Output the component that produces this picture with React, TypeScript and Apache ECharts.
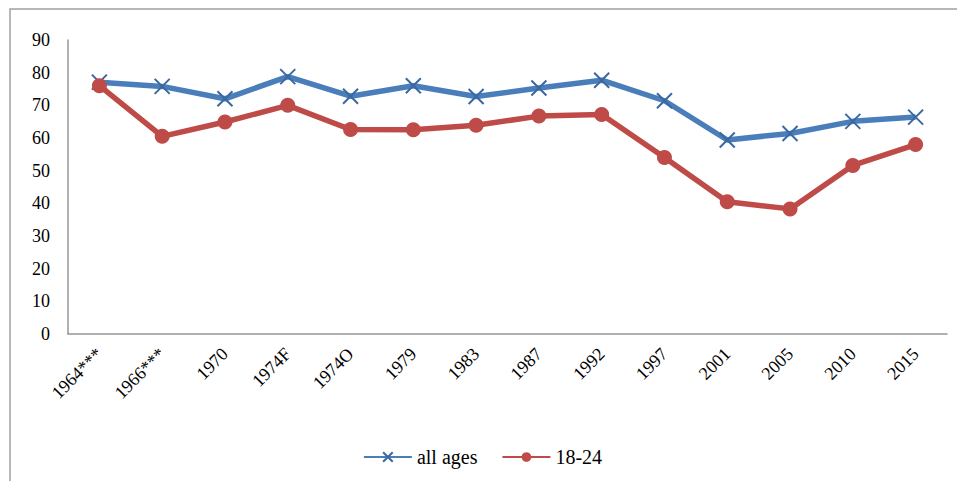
import React, { useEffect, useRef } from "react";
import * as echarts from "echarts";

const categories = ["1964***", "1966***", "1970", "1974F", "1974O", "1979", "1983", "1987", "1992", "1997", "2001", "2005", "2010", "2015"];
const allAges = [77.1, 75.8, 72.0, 78.8, 72.8, 76.0, 72.7, 75.3, 77.7, 71.4, 59.4, 61.4, 65.1, 66.4];
const youth = [76.0, 60.5, 64.9, 70.0, 62.6, 62.5, 63.9, 66.7, 67.2, 54.0, 40.5, 38.3, 51.6, 58.0];
const yTicks = { min: 0, max: 90, interval: 10 };

const FONT = "Liberation Serif, Times New Roman, serif";
const BLUE = "#4a7ebb";
const RED = "#be4b48";

export default function App() {
  const ref = useRef<HTMLDivElement>(null);
  useEffect(() => {
    if (!ref.current) return;
    const chart = echarts.init(ref.current, null, { renderer: "svg" });
    chart.setOption({
      animation: false,
      backgroundColor: "#fff",
      graphic: [
        {
          type: "rect",
          shape: { x: 2, y: 1, width: 980, height: 477 },
          style: { fill: "none", stroke: "#a0a0a0", lineWidth: 1.5 },
          silent: true,
        },
      ],
      grid: { left: 60, right: 10, top: 32, bottom: 147, containLabel: false },
      legend: {
        bottom: 9,
        left: "center",
        itemWidth: 48,
        itemHeight: 12,
        itemGap: 24,
        textStyle: { fontFamily: FONT, fontSize: 20, color: "#000" },
        data: ["all ages", "18-24"],
      },
      xAxis: {
        type: "category",
        data: categories,
        boundaryGap: true,
        axisLine: { lineStyle: { color: "#969696", width: 1.5 } },
        axisTick: { show: false },
        axisLabel: {
          rotate: 45,
          interval: 0,
          margin: 17,
          fontFamily: FONT,
          fontSize: 18,
          color: "#000",
        },
      },
      yAxis: {
        type: "value",
        min: yTicks.min,
        max: yTicks.max,
        interval: yTicks.interval,
        axisLine: { show: true, lineStyle: { color: "#969696", width: 1.5 } },
        axisTick: { show: false },
        splitLine: { show: false },
        axisLabel: {
          margin: 18,
          fontFamily: FONT,
          fontSize: 18,
          color: "#000",
        },
      },
      series: [
        {
          name: "all ages",
          type: "line",
          data: allAges,
          symbol: "path://M0,0L10,10M10,0L0,10",
          symbolSize: 15,
          lineStyle: { color: BLUE, width: 5.5 },
          itemStyle: { color: BLUE, borderColor: "#3a68a0", borderWidth: 2 },
          z: 2,
        },
        {
          name: "18-24",
          type: "line",
          data: youth,
          symbol: "circle",
          symbolSize: 15,
          lineStyle: { color: RED, width: 5.5 },
          itemStyle: { color: RED, borderColor: RED, borderWidth: 0 },
          z: 3,
        },
      ],
    });
    return () => chart.dispose();
  }, []);
  return <div ref={ref} style={{ width: 949, height: 473 }} />;
}
